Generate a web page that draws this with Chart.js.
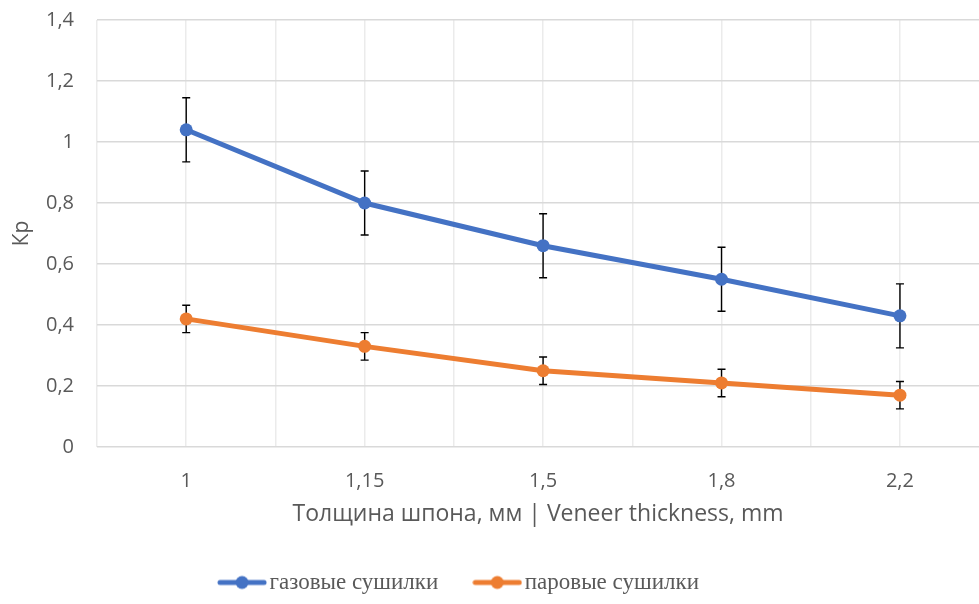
<!DOCTYPE html>
<html>
<head>
<meta charset="utf-8">
<script src="https://cdn.jsdelivr.net/npm/chart.js@4.4.1/dist/chart.umd.min.js"></script>
<style>
  body { margin: 0; background: #fff; }
</style>
</head>
<body>
<canvas id="thicknessChart" width="979" height="604"></canvas>
<script>
const categories = ["1", "1,15", "1,5", "1,8", "2,2"];
const yTickLabels = ["0", "0,2", "0,4", "0,6", "0,8", "1", "1,2", "1,4"];
const gasDryers = [1.04, 0.80, 0.66, 0.55, 0.43];
const gasErrors = [0.105, 0.105, 0.105, 0.105, 0.105];
const steamDryers = [0.42, 0.33, 0.25, 0.21, 0.17];
const steamErrors = [0.045, 0.045, 0.045, 0.045, 0.045];
const seriesNames = ["газовые сушилки", "паровые сушилки"];

const blue = "#4472C4";
const orange = "#ED7D31";
const textColor = "#595959";

function toPoints(values) {
    return values.map((v, i) => ({ x: i, y: v }));
}

// legend symbol: a short line with a dot in the middle
function legendMark(color) {
    const c = document.createElement("canvas");
    c.width = 50;
    c.height = 16;
    const g = c.getContext("2d");
    g.strokeStyle = color;
    g.lineWidth = 5;
    g.lineCap = "round";
    g.beginPath();
    g.moveTo(3, 8);
    g.lineTo(47, 8);
    g.stroke();
    g.fillStyle = color;
    g.beginPath();
    g.arc(25, 8, 6.5, 0, Math.PI * 2);
    g.fill();
    return c;
}
const legendMarks = [legendMark(blue), legendMark(orange)];

// error bars drawn under the markers
const errorBars = {
    id: "errorBars",
    beforeDatasetsDraw(chart) {
        const { ctx, scales: { x, y } } = chart;
        ctx.save();
        ctx.strokeStyle = "#000";
        ctx.lineWidth = 1.4;
        chart.data.datasets.forEach(ds => {
            ds.data.forEach((p, i) => {
                const px = x.getPixelForValue(p.x);
                const top = y.getPixelForValue(p.y + ds.errors[i]);
                const bottom = y.getPixelForValue(p.y - ds.errors[i]);
                ctx.beginPath();
                ctx.moveTo(px, top);
                ctx.lineTo(px, bottom);
                ctx.moveTo(px - 4, top);
                ctx.lineTo(px + 4, top);
                ctx.moveTo(px - 4, bottom);
                ctx.lineTo(px + 4, bottom);
                ctx.stroke();
            });
        });
        ctx.restore();
    }
};

// legend sits a little left of centre in the original
const legendShift = {
    id: "legendShift",
    afterLayout(chart) {
        chart.legend.left -= 54;
    }
};

new Chart(document.getElementById("thicknessChart"), {
    type: "line",
    data: {
        datasets: [{
            label: seriesNames[0],
            data: toPoints(gasDryers),
            errors: gasErrors,
            borderColor: blue,
            backgroundColor: blue,
            borderWidth: 5,
            pointRadius: 6.5,
            pointHoverRadius: 6.5,
            pointBorderWidth: 0
        }, {
            label: seriesNames[1],
            data: toPoints(steamDryers),
            errors: steamErrors,
            borderColor: orange,
            backgroundColor: orange,
            borderWidth: 5,
            pointRadius: 6.5,
            pointHoverRadius: 6.5,
            pointBorderWidth: 0
        }]
    },
    options: {
        responsive: false,
        animation: false,
        layout: { autoPadding: false, padding: { top: 20, left: 0, right: 0, bottom: 0 } },
        plugins: {
            tooltip: { enabled: false },
            legend: {
                position: "bottom",
                labels: {
                    usePointStyle: true,
                    pointStyleWidth: 32,
                    padding: 43,
                    color: textColor,
                    font: { family: "'Liberation Serif', 'Times New Roman', serif", size: 23 },
                    generateLabels(chart) {
                        const items = Chart.defaults.plugins.legend.labels.generateLabels(chart);
                        items.forEach((it, i) => { it.pointStyle = legendMarks[i]; });
                        return items;
                    }
                }
            }
        },
        scales: {
            x: {
                type: "linear",
                min: -0.5,
                max: 4.443,
                afterFit(scale) { scale.height = 81; },
                border: { display: false },
                grid: { color: "#ebebeb", lineWidth: 1.5, drawTicks: false },
                ticks: {
                    stepSize: 0.5,
                    includeBounds: false,
                    autoSkip: false,
                    maxRotation: 0,
                    padding: 22,
                    color: textColor,
                    font: { family: "'Open Sans', sans-serif", size: 20 },
                    callback(v) {
                        const r = Math.round(v);
                        return Math.abs(v - r) < 1e-6 ? categories[r] : "";
                    }
                },
                title: {
                    display: true,
                    text: "Толщина шпона, мм | Veneer thickness, mm",
                    color: textColor,
                    font: { family: "'Open Sans', sans-serif", size: 23, lineHeight: 1 },
                    padding: { top: 0, bottom: 2 }
                }
            },
            y: {
                min: 0,
                max: 1.4,
                afterFit(scale) { scale.width = 97; },
                border: { display: false },
                // invisible tick marks keep the labels off the axis without extra top padding
                grid: { color: "#d9d9d9", lineWidth: 1.5, drawTicks: true, tickLength: 23, tickColor: "rgba(0,0,0,0)" },
                ticks: {
                    stepSize: 0.2,
                    padding: 0,
                    color: textColor,
                    font: { family: "'Open Sans', sans-serif", size: 20 },
                    callback(v, i) { return yTickLabels[i]; }
                },
                title: {
                    display: true,
                    text: "Кр",
                    color: textColor,
                    font: { family: "'Open Sans', sans-serif", size: 21, lineHeight: 1.2 },
                    padding: { top: 9, bottom: 0 }
                }
            }
        }
    },
    plugins: [errorBars, legendShift]
});
</script>
</body>
</html>
